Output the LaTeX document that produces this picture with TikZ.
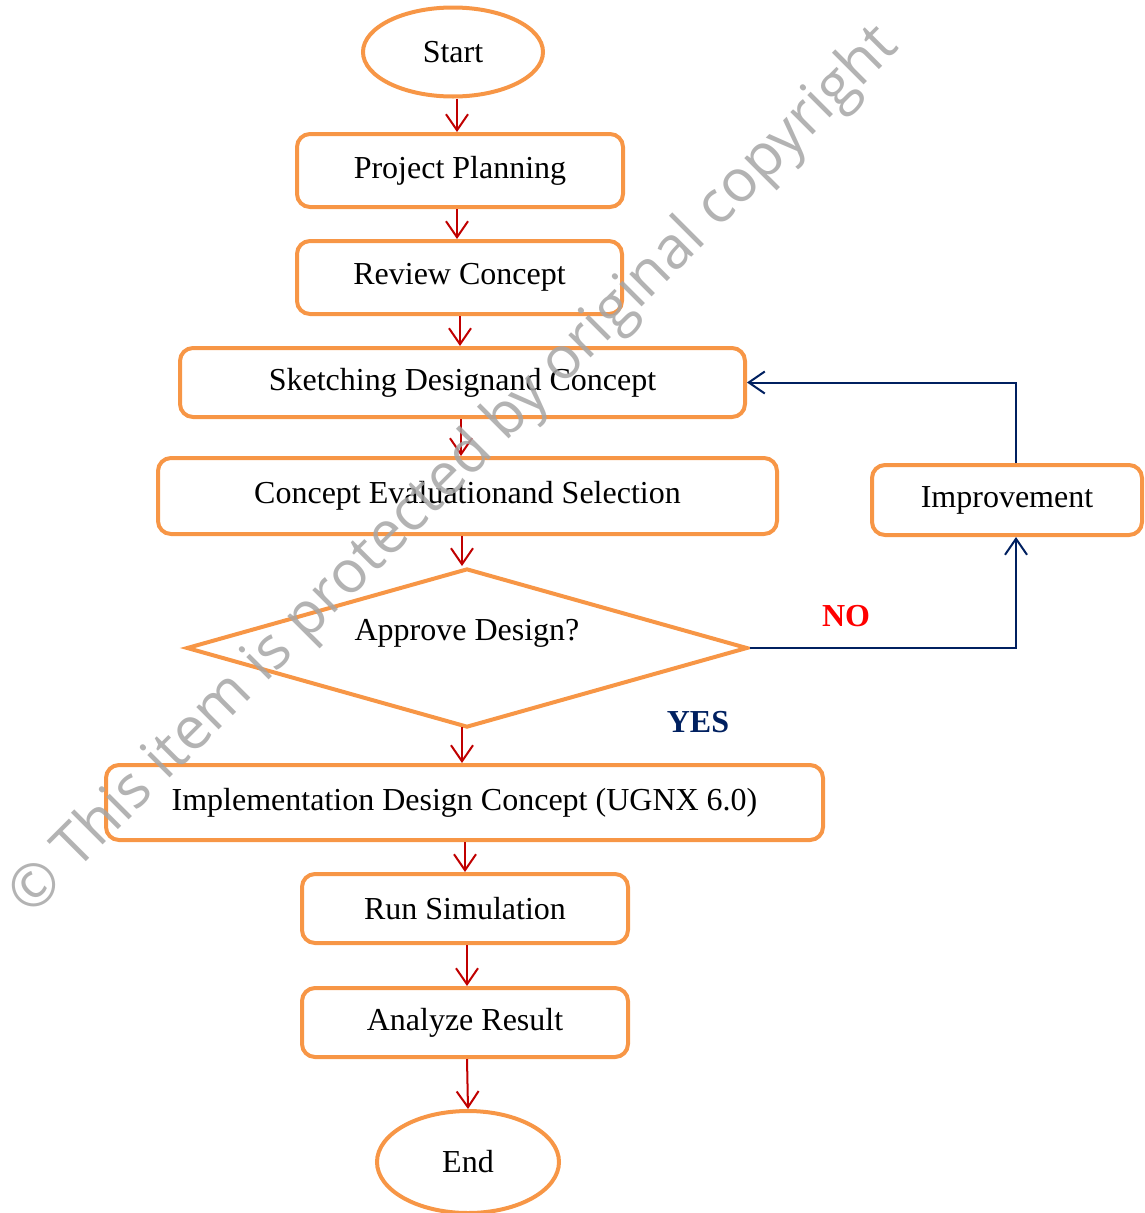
\documentclass[tikz,border=0pt]{standalone}
\usepackage{fontspec}
\setmainfont{Liberation Serif}
\newfontfamily\wmfont{Open Sans}
\usetikzlibrary{shapes.geometric,arrows.meta}
\definecolor{boxorange}{HTML}{F79646}
\definecolor{arrred}{HTML}{C00000}
\definecolor{loopblue}{HTML}{002060}
\tikzset{
  stepbox/.style={draw=boxorange, line width=4pt, rounded corners=13pt, inner sep=0pt},
  terminal/.style={draw=boxorange, line width=4pt, ellipse, inner sep=0pt},
  decision/.style={draw=boxorange, line width=4pt, diamond, inner sep=0pt},
  redarr/.style={draw=arrred, line width=2pt, -{Straight Barb[length=16pt,width=22pt,line width=2pt]}},
  bluearr/.style={draw=loopblue, line width=2pt, -{Straight Barb[length=16pt,width=22pt,line width=2pt]}},
}
\begin{document}
\begin{tikzpicture}[x=1pt, y=-1pt, every node/.style={font=\fontsize{32}{36}\selectfont}]
\useasboundingbox (0,0) rectangle (1144,1213);
% nodes
\node[terminal, minimum width=180pt, minimum height=89pt] (start) at (453,52) {Start};
\node[stepbox, minimum width=326pt, minimum height=73pt] (pp) at (460,170.5) {Project Planning};
\node[stepbox, minimum width=325pt, minimum height=73pt] (rc) at (459.5,277.5) {Review Concept};
\node[stepbox, minimum width=565pt, minimum height=69pt] (sk) at (462.5,382.5) {Sketching Designand Concept};
\node[stepbox, minimum width=619pt, minimum height=76pt] (ce) at (467.5,496) {Concept Evaluationand Selection};
\node[decision, minimum width=561pt, minimum height=159pt] (dec) at (467,648) {};
\node (dectext) at (467,633) {Approve Design?};
\node[stepbox, minimum width=717pt, minimum height=75pt] (impl) at (464.5,802.5) {Implementation Design Concept (UGNX 6.0)};
\node[stepbox, minimum width=326pt, minimum height=69pt] (rs) at (465,908.5) {Run Simulation};
\node[stepbox, minimum width=326pt, minimum height=69pt] (ar) at (465,1022.5) {Analyze Result};
\node[terminal, minimum width=182pt, minimum height=102pt] (end) at (468,1162) {End};
\node[stepbox, minimum width=270pt, minimum height=70pt] (imp) at (1007,500) {Improvement};
\node[font=\fontsize{32}{36}\selectfont\bfseries, text=red] (no) at (846,616) {NO};
\node[font=\fontsize{32}{36}\selectfont\bfseries, text=loopblue] (yes) at (698,722) {YES};
% main flow
\draw[redarr] (start.south -| 457,0) -- (pp.north -| 457,0);
\draw[redarr] (pp.south -| 457,0) -- (rc.north -| 457,0);
\draw[redarr] (rc.south -| 460,0) -- (sk.north -| 460,0);
\draw[redarr] (sk.south -| 461,0) -- (ce.north -| 461,0);
\draw[redarr] (ce.south -| 462,0) -- (462,566);
\draw[redarr] (462,727) -- (impl.north -| 462,0);
\draw[redarr] (impl.south -| 465,0) -- (rs.north -| 465,0);
\draw[redarr] (rs.south -| 467,0) -- (ar.north -| 467,0);
\draw[redarr] (ar.south -| 467,0) -- (end.north -| 468,0);
% loop
\draw[bluearr] (dec.east) -| (imp.south -| 1016,0);
\draw[bluearr] (imp.north -| 1016,0) |- (sk.east);
% watermark
\node[font=\wmfont\fontsize{59}{64}\selectfont, text=gray!70, opacity=0.85, rotate=45] (wm) at (455,472) {© This item is protected by original copyright};
\end{tikzpicture}
\end{document}
